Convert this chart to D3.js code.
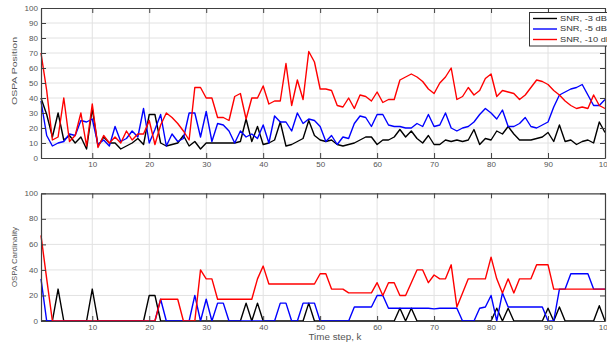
<!DOCTYPE html>
<html><head><meta charset="utf-8">
<script src="https://cdn.jsdelivr.net/npm/d3@7"></script>
<style>
html,body{margin:0;padding:0;background:#fff;}
svg{display:block;font-family:"Liberation Sans",Arial,Helvetica,sans-serif;}
</style></head>
<body><svg id="c" width="607" height="347"></svg>
<script>
// ---- data ----
const steps = d3.range(1, 101);
const seriesNames = ["SNR, -3 dB", "SNR, -5 dB", "SNR, -10 dB"];
const seriesColors = ["#000000", "#0000ff", "#ff0000"];
const xTicks = [10,20,30,40,50,60,70,80,90,100];
const posTicks = [0,10,20,30,40,50,60,70,80,90,100];
const cardTicks = [0,20,40,60,80,100];

const posSnr3 = [40,29,14,30,12,15,10,14,6,33, 8,14,10,10,6,8,10,13,9,29,
 29,10,8,9,10,15,8,11,6,10, 10,10,10,10,10,11,26,11,21,9,
 10,12,24,8,9,11,13,25,15,12, 11,12,9,8,9,10,12,14,14,9,
 12,12,14,19,14,18,13,10,15,9, 9,12,11,12,11,12,19,9,13,12,
 18,16,21,16,12,12,12,13,14,17, 11,22,11,12,9,11,12,10,24,17];
const posSnr5 = [38,15,8,10,11,16,15,25,24,26, 9,12,8,21,11,13,18,14,33,10,
 19,29,8,16,11,13,30,30,14,31, 11,23,22,18,10,18,14,16,13,22,
 10,28,24,24,18,30,23,26,25,21, 11,15,9,14,13,23,28,27,21,29,
 29,22,21,21,20,20,23,21,29,21, 22,30,20,18,20,21,24,29,33,30,
 26,32,21,21,23,27,21,20,22,24, 34,42,44,46,47,49,42,35,35,39];
const posSnr10 = [70,45,12,14,40,11,15,30,8,36, 7,15,10,14,10,18,12,16,16,25,
 9,22,30,27,23,18,12,47,47,40, 40,27,27,25,41,43,26,40,40,48,
 36,38,38,63,35,52,39,71,64,46, 46,45,35,34,40,33,42,41,38,44,
 37,39,39,52,54,56,54,51,46,43, 50,54,60,39,41,47,42,45,53,56,
 41,45,44,43,39,42,47,52,51,49, 45,42,38,35,33,34,33,42,35,33];

const cardSnr3 = [0,0,0,25,0,0,0,0,0,25, 0,0,0,0,0,0,0,0,0,20,
 20,0,0,0,0,0,0,0,0,0, 0,0,0,0,0,0,14,0,14,0,
 0,0,0,0,0,0,0,14,0,0, 0,0,0,0,0,0,0,0,0,0,
 0,0,0,10,0,10,0,0,0,0, 0,0,0,0,0,0,0,0,0,0,
 10,0,10,0,0,0,0,0,0,10, 0,11,0,0,0,0,0,0,12,0];
const cardSnr5 = [33,0,0,0,0,0,0,0,0,0, 0,0,0,0,0,0,0,0,0,0,
 0,17,0,0,0,0,0,20,0,17, 0,14,14,0,0,0,0,0,0,0,
 0,0,14,14,0,0,14,14,14,0, 0,0,0,0,0,11,11,11,11,20,
 20,10,10,10,10,10,10,10,10,9.5, 10,10,10,10,0,0,0,10,11,20,
 0,22,11,11,11,11,11,11,11,0, 0,25,25,37,37,37,37,25,25,25];
const cardSnr10 = [67,33,0,0,0,0,0,0,0,0, 0,0,0,0,0,0,0,0,0,0,
 0,17,17,17,17,0,0,0,40,33, 33,17,17,17,17,17,17,17,33,43,
 29,29,29,29,29,29,29,29,29,37, 37,25,25,25,22,22,22,22,22,30,
 20,30,30,20,20,30,40,40,30,36, 33,33,44,11,22,33,33,33,33,50,
 33,22,33,22,33,33,33,44,44,44, 25,25,25,25,25,25,25,25,25,25];

const posSeries = [posSnr3, posSnr5, posSnr10];
const cardSeries = [cardSnr3, cardSnr5, cardSnr10];

// ---- layout ----
const svg = d3.select("#c");
const L = 41, R = 605;
const x = d3.scaleLinear().domain([1,100]).range([L,R]);
const panels = [
  {top:8, bot:158, ticks:posTicks, series:posSeries, label:"OSPA Position", labelY:71, labelLen:68, xlabOff:4.5},
  {top:193.3, bot:321, ticks:cardTicks, series:cardSeries, label:"OSPA Cardinality", labelY:257, labelLen:60, xlabOff:4.5}
];
const axisCol = "#404040", textCol = "#555555", gridCol = "#e2e2e2";
const SX = 1.22; // horizontal stretch of text

panels.forEach((p, pi) => {
  const y = d3.scaleLinear().domain([0,100]).range([p.bot, p.top]);
  const g = svg.append("g");
  // grid
  g.append("g").selectAll("line.v").data(xTicks.filter(t=>t<100)).join("line")
    .attr("x1", d=>x(d)).attr("x2", d=>x(d)).attr("y1", p.top).attr("y2", p.bot)
    .attr("stroke", gridCol).attr("stroke-width", 1);
  g.append("g").selectAll("line.h").data(p.ticks.filter(t=>t>0 && t<100)).join("line")
    .attr("x1", L).attr("x2", R).attr("y1", d=>y(d)).attr("y2", d=>y(d))
    .attr("stroke", gridCol).attr("stroke-width", 1);

  // lines
  const line = d3.line().x((d,i)=>x(steps[i])).y(d=>y(d));
  p.series.forEach((s, si) => {
    g.append("path").datum(s).attr("d", line).attr("fill","none")
      .attr("stroke", seriesColors[si]).attr("stroke-width", 1.4)
      .attr("stroke-linejoin","round");
  });

  // axes
  const ax = (gen, tx, ty, labels) => {
    const a = g.append("g").attr("transform", `translate(${tx},${ty})`).call(gen);
    a.select(".domain").attr("stroke", axisCol).attr("stroke-width", 1.2);
    a.selectAll(".tick line").attr("stroke", axisCol).attr("stroke-width", 1);
    a.selectAll(".tick text").attr("fill", textCol).attr("font-size", 6.6);
    return a;
  };
  const xb = ax(d3.axisBottom(x).tickValues(xTicks).tickSizeInner(-5).tickSizeOuter(0).tickPadding(p.xlabOff), 0, p.bot);
  xb.selectAll(".tick text").attr("transform", `scale(${SX},1)`);
  ax(d3.axisTop(x).tickValues(xTicks).tickSizeInner(-5).tickSizeOuter(0).tickFormat(""), 0, p.top);
  const yl = ax(d3.axisLeft(y).tickValues(p.ticks).tickSizeInner(-5).tickSizeOuter(0).tickPadding(3), L, 0);
  yl.selectAll(".tick text").attr("x", -3/SX).attr("transform", `scale(${SX},1)`);
  ax(d3.axisRight(y).tickValues(p.ticks).tickSizeInner(-5).tickSizeOuter(0).tickFormat(""), R, 0);

  // y label
  svg.append("text").attr("transform", `translate(15,${p.labelY}) rotate(-90)`)
    .attr("text-anchor","middle").attr("dominant-baseline","middle")
    .attr("font-size", 8).attr("fill", textCol)
    .attr("textLength", p.labelLen).attr("lengthAdjust","spacingAndGlyphs")
    .text(p.label);
});

// x label
svg.append("text").attr("x", 335).attr("y", 340).attr("text-anchor","middle")
  .attr("font-size", 8.4).attr("fill", textCol)
  .attr("textLength", 53).attr("lengthAdjust","spacingAndGlyphs")
  .text("Time step, k");

// legend
const lg = svg.append("g");
lg.append("rect").attr("x", 529.5).attr("y", 12.5).attr("width", 100).attr("height", 33.5)
  .attr("fill","#fff").attr("stroke", "#333").attr("stroke-width", 1);
const legY = d3.scalePoint().domain(seriesNames).range([18.5, 39.5]);
seriesNames.forEach((n, i) => {
  lg.append("line").attr("x1", 533).attr("x2", 557).attr("y1", legY(n)).attr("y2", legY(n))
    .attr("stroke", seriesColors[i]).attr("stroke-width", 1.4);
  lg.append("text").attr("transform", `translate(560,${legY(n)}) scale(${SX},1)`)
    .attr("dominant-baseline","middle").attr("font-size", 7.6).attr("fill", "#333")
    .text(n);
});
</script></body></html>
